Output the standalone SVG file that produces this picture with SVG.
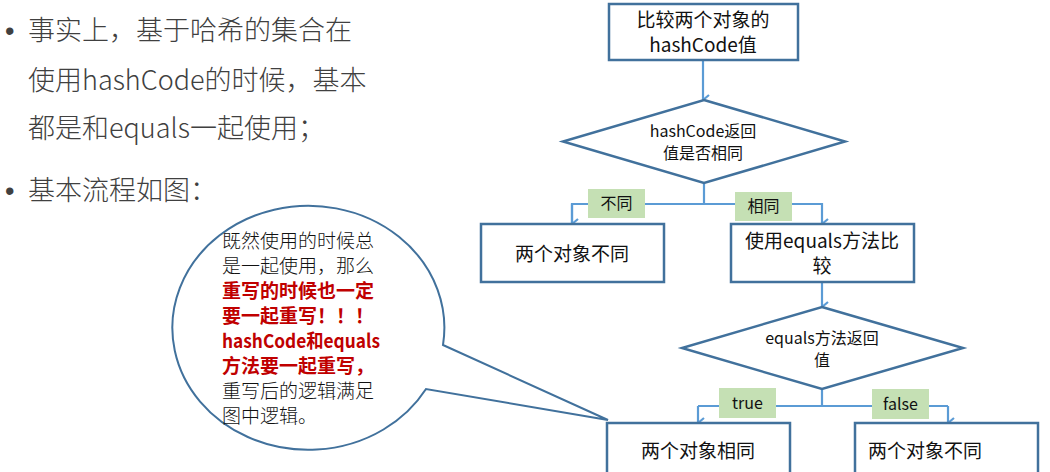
<svg xmlns="http://www.w3.org/2000/svg" width="1050" height="472" viewBox="0 0 1050 472">
<style>
.t{font-family:"Noto Sans CJK SC","Noto Sans",sans-serif}
.bul{font-size:27px;fill:#404040;font-weight:300}
.dot{font-family:"Liberation Sans",sans-serif;font-size:27px;fill:#404040}
.box{fill:#fff;stroke:#41719C;stroke-width:2.5}
.dia{fill:#fff;stroke:#41719C;stroke-width:2.5}
.bt{font-size:19px;fill:#111;text-anchor:middle}
.dt{font-size:16px;fill:#111;text-anchor:middle}
.lab{fill:#C5E0B4}
.lt{font-size:16px;fill:#111;text-anchor:middle}
.con{fill:none;stroke:#5B9BD5;stroke-width:2.2}
.ct{font-size:19px;fill:#111;font-weight:300}
.red{fill:#C00000;font-weight:bold}
</style>
<defs>
<marker id="ah" viewBox="0 0 12 12" refX="6" refY="11" markerWidth="12" markerHeight="12" markerUnits="userSpaceOnUse" orient="auto-start-reverse">
<path d="M1,5 L6,11 L11,5" fill="none" stroke="#5B9BD5" stroke-width="2.2"/>
</marker>
</defs>
<g id="bullets">
<text class="dot" x="5" y="40">•</text>
<text class="t bul" x="28" y="40">事实上，基于哈希的集合在</text>
<text class="t bul" x="28" y="90">使用hashCode的时候，基本</text>
<text class="t bul" x="28" y="138">都是和equals一起使用；</text>
<text class="dot" x="5" y="200">•</text>
<text class="t bul" x="28" y="200">基本流程如图：</text>
</g>
<g id="connectors">
<path class="con" d="M703,60 V100" marker-end="url(#ah)"/>
<path class="con" d="M704,183 V204 M572,224 V204 H822 V224" marker-end="url(#ah)"/>
<path class="con" d="M572,204 V224" marker-end="url(#ah)"/>
<path class="con" d="M822,282 V307" marker-end="url(#ah)"/>
<path class="con" d="M822,389 V406 M698,406 H948"/>
<path class="con" d="M698,406 V423" marker-end="url(#ah)"/>
<path class="con" d="M948,406 V423" marker-end="url(#ah)"/>
</g>
<g id="lab-butong"><rect class="lab" x="588" y="189" width="57" height="29"/><text class="t lt" x="616.5" y="209">不同</text></g>
<g id="lab-xiangtong"><rect class="lab" x="735" y="192" width="57" height="29"/><text class="t lt" x="763.5" y="212">相同</text></g>
<g id="lab-true"><rect class="lab" x="719" y="388" width="57" height="30"/><text class="t lt" x="747.5" y="409">true</text></g>
<g id="lab-false"><rect class="lab" x="872" y="389" width="57" height="30"/><text class="t lt" x="900.5" y="410">false</text></g>
<g id="n-start"><rect class="box" x="609" y="4" width="189" height="56"/><text class="t bt" x="703" y="27">比较两个对象的</text><text class="t bt" x="703" y="52">hashCode值</text></g>
<g id="n-hashdec"><polygon class="dia" points="704,100 845,141.5 704,183 563,141.5"/><text class="t dt" x="703" y="137">hashCode返回</text><text class="t dt" x="703" y="159">值是否相同</text></g>
<g id="n-diff1"><rect class="box" x="481" y="224" width="183" height="58"/><text class="t bt" x="572" y="261">两个对象不同</text></g>
<g id="n-equals"><rect class="box" x="731" y="224" width="183" height="58"/><text class="t bt" x="822" y="248">使用equals方法比</text><text class="t bt" x="822" y="273">较</text></g>
<g id="n-eqdec"><polygon class="dia" points="822,307 963,348 822,389 682,348"/><text class="t dt" x="822" y="344">equals方法返回</text><text class="t dt" x="822" y="366">值</text></g>
<g id="n-same"><rect class="box" x="607" y="423" width="183" height="60"/><text class="t bt" x="698" y="458">两个对象相同</text></g>
<g id="n-diff2"><rect class="box" x="855" y="423" width="183" height="60"/><text class="t bt" x="925" y="458">两个对象不同</text></g>
<g id="callout">
<path d="M443,345 L608,420 L426,389 A136,122 0 1 1 443,345 Z" fill="#fff" stroke="#41719C" stroke-width="2"/>
<text class="t ct" x="222" y="248">既然使用的时候总</text>
<text class="t ct" x="222" y="273">是一起使用，那么</text>
<text class="t ct red" x="222" y="298">重写的时候也一定</text>
<text class="t ct red" x="222" y="323">要一起重写！！！</text>
<text class="t ct red" x="222" y="348" textLength="158" lengthAdjust="spacingAndGlyphs">hashCode和equals</text>
<text class="t ct red" x="222" y="373">方法要一起重写，</text>
<text class="t ct" x="222" y="398">重写后的逻辑满足</text>
<text class="t ct" x="222" y="423">图中逻辑。</text>
</g>
</svg>
